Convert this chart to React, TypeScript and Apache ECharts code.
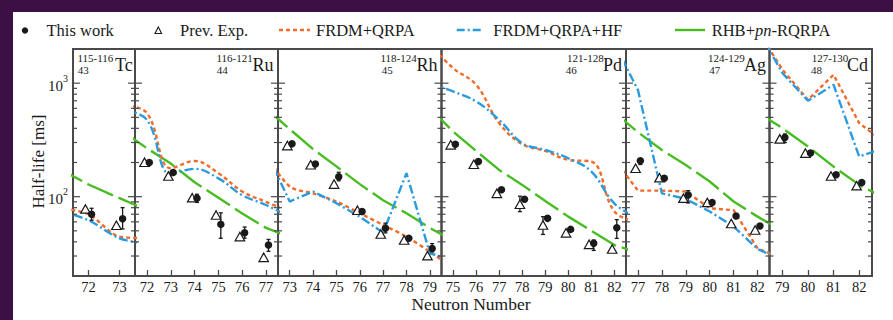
import React, { useEffect, useRef } from 'react';
import * as echarts from 'echarts';

const FONT = '"Liberation Serif", "Times New Roman", serif';
const ORANGE = '#f26b2a';
const BLUE = '#2b9be0';
const GREEN = '#48bd22';
const INK = '#1a1a1a';
const FRAME = '#4a4a4a';

// ---- panels ----
const panelSymbols = ['Tc', 'Ru', 'Rh', 'Pd', 'Ag', 'Cd'];
const massRanges = ['115-116', '116-121', '118-124', '121-128', '124-129', '127-130'];
const protonNumbers = ['43', '44', '45', '46', '47', '48'];
const xMins = [71.5, 71.5, 72.5, 74.5, 76.5, 78.5];
const xMaxs = [73.5, 77.5, 79.5, 82.5, 82.5, 82.5];
const xTickValues = [
  [72, 73],
  [72, 73, 74, 75, 76, 77],
  [73, 74, 75, 76, 77, 78, 79],
  [75, 76, 77, 78, 79, 80, 81, 82],
  [77, 78, 79, 80, 81, 82],
  [79, 80, 81, 82],
];
const yTickValues = [30, 40, 50, 60, 70, 80, 90, 100, 200, 300, 400, 500, 600, 700, 800, 900, 1000];
const yMajorTicks = [100, 1000];
const yMajorLabels = ['2', '3'];

// ---- measured half-lives (ms) ----
const expN = xTickValues;
const thisWork = [
  [70, 64],
  [200, 163, 97, 57, 48, 37.5],
  [292, 194, 150, 74, 52.6, 43, 35],
  [290, 204, 115, 95, 64.4, 51.5, 38.8, 53.3],
  [207, 145.5, 103.5, 88.7, 67.6, 55.2],
  [332, 242, 156, 133],
];
const thisWorkErr: (number[] | null)[][] = [
  [[62, 79], [52, 80]],
  [null, null, [89, 105], [43, 72], [43, 54], [33, 42]],
  [null, null, [138, 164], null, [48, 58.5], null, [32.7, 38.6]],
  [null, null, null, null, null, null, [33.6, 41.5], [42.9, 62.7]],
  [[192, 216], [139, 152], [88, 113], null, null, null],
  [[300, 357], null, null, null],
];
const prevExp = [
  [78, 56],
  [201, 152, 98, 69, 44.5, 29.2],
  [282, 191, 129, 76, 46.9, 41.5, 30.2],
  [286, 193, 107, 85.7, 56.3, 48, 38, 34.6],
  [178, 147, 97, 89, 58, 50.9],
  [323, 242, 152, 125],
];
const prevExpErr: (number[] | null)[][] = [
  [null, null],
  [null, null, null, null, null, null],
  [null, null, null, null, null, null, null],
  [null, null, null, [73.8, 101], [46.5, 66.6], null, null, null],
  [null, null, null, null, null, null],
  [null, null, null, null],
];

// ---- model predictions (ms) ----
const modelN = [
  [71, 72, 73, 74],
  [71, 72, 73, 74, 75, 76, 77, 78],
  [72, 73, 74, 75, 76, 77, 78, 79, 80],
  [74, 75, 76, 77, 78, 79, 80, 81, 82, 83],
  [76, 77, 78, 79, 80, 81, 82, 83],
  [78, 79, 80, 81, 82, 83],
];
const frdmQrpa = [
  [80, 70, 44.5, 43],
  [640, 545, 178, 206, 161, 111, 90, 74],
  [230, 123, 107, 90.6, 71.5, 56.4, 44.4, 32.7, 23.5],
  [2200, 1358, 968, 445, 290, 253, 211, 204, 74, 60],
  [215, 113, 113, 111, 79, 76, 35, 28.7],
  [3000, 1320, 714, 1186, 445, 300],
];
const frdmQrpaHf = [
  [76, 62, 43, 38],
  [580, 475, 158, 176, 145, 103, 84.5, 66],
  [248, 90.6, 111, 87.5, 66.7, 48, 161, 31.7, 27.6],
  [990, 845, 690, 475, 296, 258, 218, 166, 87, 65],
  [2250, 870, 107, 95.5, 74, 54.5, 34.6, 27.8],
  [3100, 1230, 700, 968, 226, 270],
];
const rhbRqrpa = [
  [180, 128, 97, 74],
  [375, 267, 196, 134, 98, 71, 53, 44],
  [597, 394, 262, 185, 129, 93, 71.5, 53, 41],
  [600, 375, 253, 172, 127, 91.7, 66.7, 50, 37.5, 32],
  [555, 370, 258, 190, 136, 90.6, 66.7, 50.5],
  [560, 402, 277, 184, 127, 97],
];

// ---- layout (px) ----
const gridLefts = [73, 135, 278, 441.5, 626, 769.5];
const gridRights = [135, 278, 441.5, 626, 769.5, 872];
const GRID_TOP = 49;
const GRID_H = 227;
const smoothFrdm = [0.3, 0.4, 0.3, 0.4, 0, 0];
const smoothHf = [0.3, 0.4, 0, 0.4, 0, 0];
const massRight = [113.3, 252.7, 416.7, 603.7, 744.7, 848.3];
const zLeft = [77.7, 216.7, 381.7, 565.7, 709.3, 811];
const symRight = [132.7, 273.5, 437.5, 622, 766, 868];

function txt(text: string, x: number, y: number, size: number, align = 'left', extra: any = {}) {
  return {
    type: 'text',
    x,
    y,
    silent: true,
    style: {
      text,
      fontSize: size,
      fontFamily: FONT,
      fill: INK,
      align,
      textAlign: align,
      verticalAlign: 'middle',
      textVerticalAlign: 'middle',
      ...extra,
    },
  };
}

function buildOption() {
  const grid: any[] = [];
  const xAxis: any[] = [];
  const yAxis: any[] = [];
  const series: any[] = [];

  for (let i = 0; i < 6; i++) {
    grid.push({
      left: gridLefts[i],
      top: GRID_TOP,
      width: gridRights[i] - gridLefts[i],
      height: GRID_H,
      show: true,
      borderColor: FRAME,
      borderWidth: 2,
      backgroundColor: 'transparent',
      containLabel: false,
      outerBoundsMode: 'none',
    });
    xAxis.push({
      type: 'value',
      gridIndex: i,
      min: xMins[i],
      max: xMaxs[i],
      axisLine: { show: false },
      splitLine: { show: false },
      axisTick: {
        show: true,
        inside: true,
        length: 6,
        customValues: xTickValues[i],
        lineStyle: { color: FRAME, width: 1.3 },
      },
      axisLabel: {
        show: true,
        customValues: xTickValues[i],
        fontFamily: FONT,
        fontSize: 14.5,
        color: INK,
        margin: 3,
      },
    });
    yAxis.push({
      type: 'log',
      logBase: 10,
      gridIndex: i,
      min: 20,
      max: 2000,
      axisLine: { show: false },
      axisTick: { show: false },
      splitLine: { show: false },
      minorTick: { show: false },
      axisLabel: { show: false },
    });

    const mkLine = (vals: number[][], name: string, color: string, dash: number[], smooth: number | boolean) => ({
      type: 'line',
      name,
      xAxisIndex: i,
      yAxisIndex: i,
      data: modelN[i].map((n, k) => [n, vals[i][k]]),
      showSymbol: false,
      symbol: 'none',
      smooth,
      clip: true,
      silent: true,
      z: 2,
      lineStyle: { color, width: 2.4, type: dash, cap: 'butt' },
    });
    series.push(mkLine(rhbRqrpa, 'RHB+pn-RQRPA', GREEN, [28, 6], false));
    series.push(mkLine(frdmQrpa, 'FRDM+QRPA', ORANGE, [4, 3], smoothFrdm[i]));
    series.push(mkLine(frdmQrpaHf, 'FRDM+QRPA+HF', BLUE, [9, 3, 2, 3], smoothHf[i]));

    const errData: number[][] = [];
    expN[i].forEach((n, k) => {
      const a = thisWorkErr[i][k];
      if (a) errData.push([n + 0.1, a[0], a[1]]);
      const b = prevExpErr[i][k];
      if (b) errData.push([n - 0.1, b[0], b[1]]);
    });
    series.push({
      type: 'custom',
      xAxisIndex: i,
      yAxisIndex: i,
      silent: true,
      z: 3,
      data: errData,
      renderItem: (_p: any, api: any) => {
        const x = api.value(0);
        const p1 = api.coord([x, api.value(1)]);
        const p2 = api.coord([x, api.value(2)]);
        const st = { stroke: INK, lineWidth: 1.3 };
        return {
          type: 'group',
          children: [
            { type: 'line', shape: { x1: p1[0], y1: p1[1], x2: p2[0], y2: p2[1] }, style: st },
            { type: 'line', shape: { x1: p1[0] - 2, y1: p1[1], x2: p1[0] + 2, y2: p1[1] }, style: st },
            { type: 'line', shape: { x1: p2[0] - 2, y1: p2[1], x2: p2[0] + 2, y2: p2[1] }, style: st },
          ],
        };
      },
    });

    series.push({
      type: 'scatter',
      name: 'Prev. Exp.',
      xAxisIndex: i,
      yAxisIndex: i,
      silent: true,
      z: 4,
      symbol: 'triangle',
      symbolSize: [9.5, 8.5],
      itemStyle: { color: '#ffffff', borderColor: INK, borderWidth: 1.2, opacity: 1 },
      data: expN[i].map((n, k) => [n - 0.1, prevExp[i][k]]),
    });
    series.push({
      type: 'scatter',
      name: 'This work',
      xAxisIndex: i,
      yAxisIndex: i,
      silent: true,
      z: 5,
      symbol: 'circle',
      symbolSize: 7.5,
      itemStyle: { color: INK, opacity: 1 },
      data: expN[i].map((n, k) => [n + 0.1, thisWork[i][k]]),
    });

    const xmin = xMins[i];
    const xmax = xMaxs[i];
    const withLabels = i === 0;
    series.push({
      type: 'custom',
      xAxisIndex: i,
      yAxisIndex: i,
      silent: true,
      z: 6,
      clip: false,
      data: yTickValues.map((v) => [xmin, v, yMajorTicks.indexOf(v)]),
      renderItem: (_p: any, api: any) => {
        const v = api.value(1);
        const mi = api.value(2);
        const major = mi >= 0;
        const pl = api.coord([xmin, v]);
        const pr = api.coord([xmax, v]);
        const len = major ? 7 : 4;
        const st = { stroke: FRAME, lineWidth: 1.2 };
        const children: any[] = [
          { type: 'line', shape: { x1: pl[0], y1: pl[1], x2: pl[0] + len, y2: pl[1] }, style: st },
          { type: 'line', shape: { x1: pr[0] - len, y1: pr[1], x2: pr[0], y2: pr[1] }, style: st },
        ];
        if (withLabels && major) {
          children.push({
            type: 'text',
            x: pl[0] - 5,
            y: pl[1],
            style: {
              text: `{b|10}{s|${yMajorLabels[mi]}}`,
              align: 'right',
              verticalAlign: 'middle',
              fontFamily: FONT,
              fontSize: 15,
              fill: INK,
              rich: {
                b: { fontSize: 15, fontFamily: FONT, fill: INK, verticalAlign: 'bottom', lineHeight: 20 },
                s: { fontSize: 10, fontFamily: FONT, fill: INK, verticalAlign: 'top', lineHeight: 20 },
              },
            },
          });
        }
        return { type: 'group', children };
      },
    });
  }

  const yName: any = txt('Half-life [ms]', 38, 161.5, 17, 'center');
  yName.rotation = Math.PI / 2;

  const graphic: any[] = [
    { type: 'rect', shape: { x: 0, y: 0, width: 893, height: 12 }, style: { fill: '#3c0f45' }, silent: true },
    { type: 'rect', shape: { x: 0, y: 0, width: 13, height: 320 }, style: { fill: '#3c0f45' }, silent: true },
    { type: 'rect', shape: { x: 875, y: 12, width: 18, height: 308 }, style: { fill: '#ffffff' }, silent: true, z: 100 },
    { type: 'rect', shape: { x: 13, y: 313, width: 880, height: 7 }, style: { fill: '#ffffff' }, silent: true, z: 100 },
    // legend
    { type: 'circle', shape: { cx: 25, cy: 30.5, r: 3.2 }, style: { fill: INK }, silent: true },
    txt('This work', 46.5, 30, 16.5),
    {
      type: 'polygon',
      shape: { points: [[155, 33.5], [161.6, 33.5], [158.3, 27]] },
      style: { fill: 'none', stroke: INK, lineWidth: 1.1 },
      silent: true,
    },
    txt('Prev. Exp.', 180, 30, 16.5),
    {
      type: 'line',
      shape: { x1: 279, y1: 30, x2: 310, y2: 30 },
      style: { stroke: ORANGE, lineWidth: 2.4, lineDash: [4, 3] },
      silent: true,
    },
    txt('FRDM+QRPA', 316, 30, 16.5),
    {
      type: 'line',
      shape: { x1: 456.7, y1: 30, x2: 483, y2: 30 },
      style: { stroke: BLUE, lineWidth: 2.4, lineDash: [8, 3, 2, 3] },
      silent: true,
    },
    txt('FRDM+QRPA+HF', 493.3, 30, 16.5),
    {
      type: 'line',
      shape: { x1: 675, y1: 30, x2: 705, y2: 30 },
      style: { stroke: GREEN, lineWidth: 2.4 },
      silent: true,
    },
    txt('RHB+{i|pn}-RQRPA', 711.7, 30, 16.5, 'left', {
      rich: { i: { fontStyle: 'italic', fontSize: 16.5, fontFamily: FONT, fill: INK } },
    }),
    yName,
    txt('Neutron Number', 471, 303.5, 17.5, 'center'),
  ];

  for (let i = 0; i < 6; i++) {
    graphic.push(txt(massRanges[i], massRight[i], 58, 11, 'right'));
    graphic.push(txt(protonNumbers[i], zLeft[i], 70, 11, 'left'));
    graphic.push(txt(panelSymbols[i], symRight[i], 65, 18, 'right'));
  }

  return {
    animation: false,
    backgroundColor: '#ffffff',
    grid,
    xAxis,
    yAxis,
    series,
    graphic,
  };
}

export default function App() {
  const ref = useRef<HTMLDivElement>(null);
  useEffect(() => {
    const prevHtml = document.documentElement.style.overflow;
    const prevBody = document.body.style.overflow;
    document.documentElement.style.overflow = 'hidden';
    document.body.style.overflow = 'hidden';
    document.body.style.background = '#ffffff';
    if (!ref.current) return;
    const chart = echarts.init(ref.current, null, { renderer: 'svg' });
    chart.setOption(buildOption() as any);
    return () => {
      chart.dispose();
      document.documentElement.style.overflow = prevHtml;
      document.body.style.overflow = prevBody;
    };
  }, []);
  return (
    <div
      ref={ref}
      style={{ position: 'absolute', left: 0, top: 0, width: 893, height: 320, background: '#fff' }}
    />
  );
}
